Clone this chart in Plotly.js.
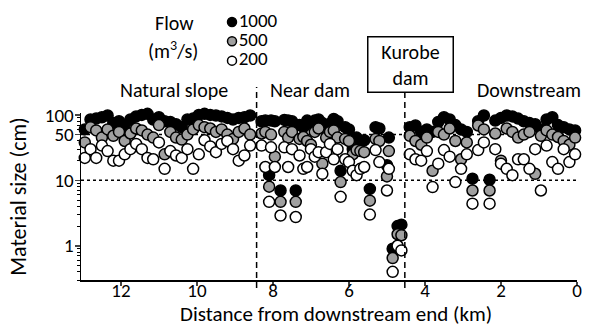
<!DOCTYPE html>
<html>
<head>
<meta charset="utf-8">
<script src="https://cdn.plot.ly/plotly-3.0.1.min.js"></script>
<style>html,body{margin:0;padding:0;background:#fff;}#chart{width:595px;height:334px;}</style>
</head>
<body>
<div id="chart"></div>
<script>
// Distance from downstream end (km) of each sampling location
const distanceKm = [
  12.95,12.8,12.65,12.5,12.35,12.2,12.05,11.9,11.75,11.6,11.45,11.3,11.15,11.0,10.85,10.7,10.55,10.4,10.25,10.1,
  9.95,9.8,9.65,9.5,9.35,9.2,9.05,8.9,8.75,8.6,
  8.3,8.2,8.1,8.05,7.95,7.8,7.7,7.6,7.5,7.4,7.3,7.2,7.1,7.0,6.9,6.8,6.7,6.6,6.5,6.4,6.3,6.22,6.1,6.0,5.9,5.8,5.7,5.6,5.45,5.3,5.2,5.0,4.95,
  4.85,4.72,4.62,
  4.4,4.25,4.1,3.95,3.8,3.65,3.5,3.35,3.2,3.05,2.9,2.75,2.6,2.45,2.3,2.15,2.0,1.85,1.7,1.55,1.4,1.25,1.1,0.95,0.8,0.65,0.5,0.35,0.2,0.05
];
// Material size (cm) for flow 1000 m3/s
const size1000 = [
  60,85,88,92,98,75,80,70,85,95,100,104,85,92,80,78,72,65,85,88,
  100,104,100,98,95,90,85,90,92,98,
  80,82,12,82,80,7,84,82,80,7,70,65,82,75,82,85,75,70,73,87,80,14,65,60,30,45,38,41,7.4,65,62,17,45,
  0.9,2.0,2.1,
  65,69,55,60,55,78,92,85,70,60,55,10.6,80,98,10.2,82,90,98,95,88,80,75,72,60,85,92,70,65,60,58
];
// Material size (cm) for flow 500 m3/s
const size500 = [
  38,65,58,45,60,48,55,40,52,62,58,50,45,70,25,55,45,42,50,60,
  70,65,62,55,60,50,43,55,62,50,
  52,55,8,50,23,4.7,55,45,55,4.7,43,46,40,35,55,62,18,45,55,58,45,9.4,43,40,25,29,28,27,4.9,43,40,11.5,28,
  0.65,1.5,1.45,
  48,40,35,45,14,55,50,62,40,21,38,7,69,60,7,52,20,62,55,45,50,55,12.6,48,58,50,46,40,35,45
];
// Material size (cm) for flow 200 m3/s
const size200 = [
  22,30,22,34,28,20,20,25,30,36,30,22,21,38,15,28,24,22,30,15,
  25,41,33,27,36,40,30,20,24,34,
  34,16,4.7,32,16,2.9,32,16,30,2.75,24,15,16,30,23,27,12.6,27,36,21,30,5.6,21,19,14,12,15,16,3.0,29,19,7,15,
  0.40,1.0,0.85,
  25,21,20,28,7.9,18,29,23,9.4,15,25,4.4,29,38,4.4,30,18,15,12,21,21,15,30,7,34,19,15,30,19,25
];
const flowLabels = ["1000","500","200"];
const markerColors = ["#000000","#a0a0a0","#ffffff"];
const boundariesKm = [8.43, 4.53];
const thresholdsCm = [10, 50];
const yTickVals = [1,10,50,100];
const yTickText = ["1","10","50","100"];
const yMinorVals = [0.3,0.4,0.5,0.6,0.7,0.8,0.9,2,3,4,5,6,7,8,9,20,30,40,60,70,80,90];
const xTickVals = [0,2,4,6,8,10,12];
const xTitle = "Distance from downstream end (km)";
const yTitle = "Material size (cm)";

const FONT = "Carlito, Calibri, Lato, 'Liberation Sans', sans-serif";
const series = [size1000, size500, size200];
const traces = series.map((ys, i) => ({
  type: "scatter", mode: "markers", x: distanceKm, y: ys, name: flowLabels[i],
  xaxis: "x", yaxis: "y",
  marker: {size: 11, color: markerColors[i], line: {color: "#000", width: 1.5}},
  cliponaxis: false
}));
// legend key, drawn on its own small hidden axes
traces.push({
  type: "scatter", mode: "markers+text", x: flowLabels.map(() => 0), y: flowLabels,
  text: flowLabels, textposition: "middle right", xaxis: "x2", yaxis: "y2",
  textfont: {family: FONT, size: 19, color: "#000"},
  marker: {size: 9, color: markerColors, line: {color: "#000", width: 1.5}},
  cliponaxis: false, hoverinfo: "skip"
});

const H = 270; // plot-area height in px (paper units)
const py = p => (280 - p) / H;
const px = p => (p - 81) / 496;

const shapes = [];
shapes.push({type:"line", xref:"x", yref:"paper", x0:boundariesKm[0], x1:boundariesKm[0], y0:py(288), y1:py(87),
  line:{color:"#000", width:1.5, dash:"6px,4px"}});
shapes.push({type:"line", xref:"x", yref:"paper", x0:boundariesKm[1], x1:boundariesKm[1], y0:py(288), y1:py(89),
  line:{color:"#000", width:1.5, dash:"6px,4px"}});
thresholdsCm.forEach(v => shapes.push({type:"line", xref:"paper", yref:"y", x0:0, x1:1, y0:v, y1:v, layer:"below",
  line:{color:"#000", width:1.5, dash:"dot"}}));

const ann = (text, x, y, extra) => Object.assign({text, x, y, xref:"paper", yref:"paper", showarrow:false,
  xanchor:"center", yanchor:"middle", font:{family:FONT, size:20, color:"#000"}}, extra || {});

const layout = {
  width: 595, height: 334,
  margin: {l: 81, r: 18, t: 10, b: 54},
  paper_bgcolor: "#fff", plot_bgcolor: "rgba(0,0,0,0)",
  font: {family: FONT, size: 19, color: "#000"},
  showlegend: false,
  xaxis: {domain: [0, 1], anchor: "y", range: [13.05, 0], tickvals: xTickVals, ticks: "outside", ticklen: 4, tickwidth: 1.5,
    showline: true, linewidth: 1.5, linecolor: "#000", showgrid: false, zeroline: false,
    tickfont: {family: FONT, size: 19}, ticklabelstandoff: -11},
  yaxis: {domain: [0, 167 / H], anchor: "x", type: "log", range: [Math.log10(0.3), Math.log10(107)],
    tickvals: yTickVals, ticktext: yTickText,
    ticks: "outside", ticklen: 5, tickwidth: 1.5, showline: true, linewidth: 1.5, linecolor: "#000",
    showgrid: false, zeroline: false, tickfont: {family: FONT, size: 19}, ticklabelstandoff: -3,
    minor: {tickvals: yMinorVals, ticks: "outside", ticklen: 3, tickwidth: 1, tickcolor: "#000", showgrid: false},
    title: {text: yTitle, font: {family: FONT, size: 22}, standoff: 12}},
  xaxis2: {domain: [px(222), px(242)], anchor: "y2", range: [-1, 1], visible: false, fixedrange: true},
  yaxis2: {domain: [py(70.3), py(12.3)], anchor: "x2", type: "category", categoryarray: flowLabels,
    range: [2.5, -0.5], visible: false, fixedrange: true},
  shapes: shapes,
  annotations: [
    ann(xTitle, px(336), py(314), {font:{family:FONT, size:21, color:"#000"}}),
    ann("Flow", px(174), py(23)),
    ann("(m<sup>3</sup>/s)", px(173), py(50)),
    ann("Natural slope", px(174), py(90)),
    ann("Near dam", px(310), py(90)),
    ann("Downstream", px(529), py(90)),
    ann("Kurobe<br>dam", px(410), py(64.5), {bordercolor:"#000", borderwidth:1.5, bgcolor:"#fff", borderpad:2, width: 80})
  ]
};
Plotly.newPlot("chart", traces, layout, {displayModeBar: false, staticPlot: true});
</script>
</body>
</html>
